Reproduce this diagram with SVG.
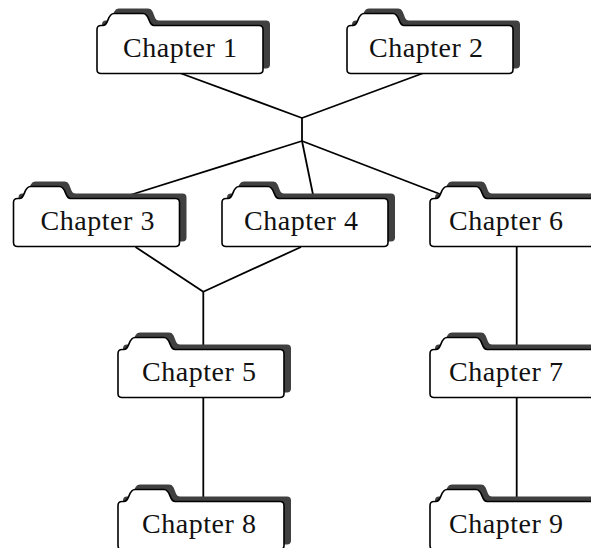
<svg xmlns="http://www.w3.org/2000/svg" xmlns:xlink="http://www.w3.org/1999/xlink" width="591" height="548" viewBox="0 0 591 548">
<style>
.edge{stroke:#000;stroke-width:1.8;fill:none;stroke-linecap:butt}
.shadow{fill:#404040;stroke:none}
.body{fill:#fff;stroke:#000;stroke-width:1.6}
.lbl{font-family:"Liberation Serif","Times New Roman",serif;font-size:28px;fill:#111;text-anchor:middle}
</style>
<defs>
<path id="fold" d="M0,44 L0,4 Q0,0 4,0 L6,0 C12,0 10,-12 17,-12 L46,-12 C53,-12 51,0 57,0 L162,0 Q166,0 166,4 L166,44 Q166,48 162,48 L4,48 Q0,48 0,44 Z"/>
<path id="shad" d="M5,39 L5,-1 Q5,-5 9,-5 L11,-5 C17,-5 15,-17 22,-17 L51,-17 C58,-17 56,-5 62,-5 L169,-5 Q173,-5 173,-1 L173,39 Q173,43 169,43 L9,43 Q5,43 5,39 Z"/>
</defs>
<rect width="591" height="548" fill="#fff"/>
<g id="connectors">
<line class="edge" x1="178.5" y1="72.5" x2="302" y2="118"/>
<line class="edge" x1="425" y1="72.5" x2="302" y2="118"/>
<line class="edge" x1="302" y1="118" x2="302" y2="141"/>
<line class="edge" x1="302" y1="141" x2="127" y2="196"/>
<line class="edge" x1="302" y1="141" x2="313.5" y2="197"/>
<line class="edge" x1="302" y1="141" x2="445" y2="196"/>
<line class="edge" x1="135.5" y1="247" x2="203.3" y2="291.7"/>
<line class="edge" x1="301" y1="247" x2="203.3" y2="291.7"/>
<line class="edge" x1="203.3" y1="291.7" x2="203.3" y2="347"/>
<line class="edge" x1="203.3" y1="398" x2="203.3" y2="499"/>
<line class="edge" x1="516.7" y1="246" x2="516.7" y2="347"/>
<line class="edge" x1="516.7" y1="398" x2="516.7" y2="499"/>
</g>
<g id="ch1" transform="translate(97,25.5)"><use class="shadow" xlink:href="#shad"/><use class="body" xlink:href="#fold"/><text class="lbl" x="83" y="31.5" textLength="114">Chapter 1</text></g>
<g id="ch2" transform="translate(347,25.5)"><use class="shadow" xlink:href="#shad"/><use class="body" xlink:href="#fold"/><text class="lbl" x="79" y="31.5" textLength="114">Chapter 2</text></g>
<g id="ch3" transform="translate(13.5,198.5)"><use class="shadow" xlink:href="#shad"/><use class="body" xlink:href="#fold"/><text class="lbl" x="84" y="31.5" textLength="114">Chapter 3</text></g>
<g id="ch4" transform="translate(222,198.5)"><use class="shadow" xlink:href="#shad"/><use class="body" xlink:href="#fold"/><text class="lbl" x="79" y="31.5" textLength="114">Chapter 4</text></g>
<g id="ch6" transform="translate(430,198.5)"><use class="shadow" xlink:href="#shad"/><use class="body" xlink:href="#fold"/><text class="lbl" x="76" y="31.5" textLength="114">Chapter 6</text></g>
<g id="ch5" transform="translate(118,349.5)"><use class="shadow" xlink:href="#shad"/><use class="body" xlink:href="#fold"/><text class="lbl" x="81" y="31.5" textLength="114">Chapter 5</text></g>
<g id="ch7" transform="translate(430,349.5)"><use class="shadow" xlink:href="#shad"/><use class="body" xlink:href="#fold"/><text class="lbl" x="76" y="31.5" textLength="114">Chapter 7</text></g>
<g id="ch8" transform="translate(118,501.5)"><use class="shadow" xlink:href="#shad"/><use class="body" xlink:href="#fold"/><text class="lbl" x="81" y="31.5" textLength="114">Chapter 8</text></g>
<g id="ch9" transform="translate(430,501.5)"><use class="shadow" xlink:href="#shad"/><use class="body" xlink:href="#fold"/><text class="lbl" x="76" y="31.5" textLength="114">Chapter 9</text></g>
</svg>
